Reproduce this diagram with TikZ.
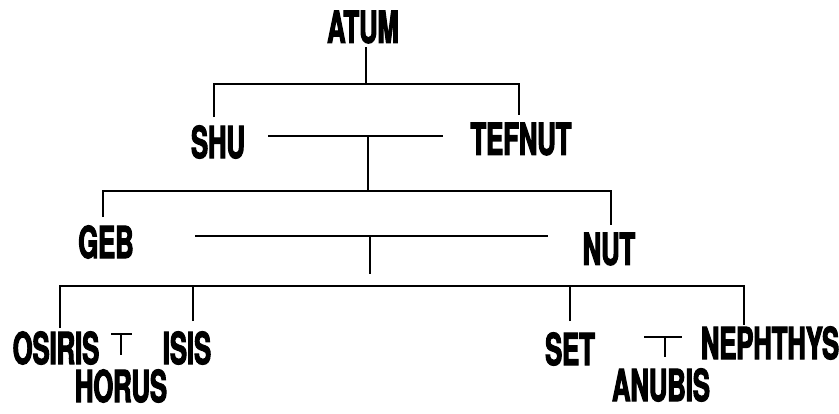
\documentclass[tikz,border=0pt]{standalone}
\usepackage{fontspec}
\setmainfont{TeX Gyre Heros}[FakeStretch=0.58,BoldFont={* Bold},BoldFeatures={FakeBold=2.5}]
\begin{document}
\begin{tikzpicture}[x=1pt,y=-1pt,
  god/.style={inner sep=0pt,font=\fontsize{44}{44}\selectfont\bfseries},
  ln/.style={line width=2.2pt,line cap=butt},
  thin/.style={line width=1.5pt}]
\useasboundingbox (0,0) rectangle (839,413);
% names
\node[god] (atum) at (363,27) {ATUM};
\node[god] (shu) at (218,142) {SHU};
\node[god] (tefnut) at (521,139) {TEFNUT};
\node[god] (geb) at (106,242) {GEB};
\node[god] (nut) at (609,249) {NUT};
\node[god] (osiris) at (56,348) {OSIRIS};
\node[god] (isis) at (187,348) {ISIS};
\node[god] (horus) at (121,386) {HORUS};
\node[god] (set) at (570,349) {SET};
\node[god] (nephthys) at (770,343) {NEPHTHYS};
\node[god] (anubis) at (661,385) {ANUBIS};
% helper coordinates
\coordinate (atumB) at (366,47);
\coordinate (a0) at (366,84);
\coordinate (shuT) at (214,117);
\coordinate (tefT) at (519,115);
\coordinate (st1) at (268,136);
\coordinate (st2) at (443,136);
\coordinate (st0) at (368,136);
\coordinate (gn0) at (368,191);
\coordinate (gebT) at (103,217);
\coordinate (nutT) at (611,225);
\coordinate (gn1) at (195,236);
\coordinate (gn2) at (548,236);
\coordinate (gm) at (370,236);
\coordinate (gm2) at (370,274);
\coordinate (ch) at (370,286);
\coordinate (osT) at (60,328);
\coordinate (isT) at (193,321);
\coordinate (seT) at (570,321);
\coordinate (neT) at (744,325);
\coordinate (ot1) at (111,334);
\coordinate (ot2) at (132,334);
\coordinate (ot0) at (121,334);
\coordinate (hoT) at (121,355);
\coordinate (sn1) at (644,337);
\coordinate (sn2) at (682,337);
\coordinate (sn0) at (665,337);
\coordinate (anT) at (665,357);
% Atum's children
\draw[ln] (atumB) -- (a0);
\draw[ln] (shuT) |- (a0) -| (tefT);
% Shu -- Tefnut
\draw[ln] (st1) -- (st2);
\draw[ln] (st0) -- (gn0);
\draw[ln] (gebT) |- (gn0) -| (nutT);
% Geb -- Nut
\draw[ln] (gn1) -- (gn2);
\draw[ln] (gm) -- (gm2);
\draw[ln] (osT) |- (ch) -| (neT);
\draw[ln] (isT) -- (isT |- ch);
\draw[ln] (seT) -- (seT |- ch);
% Osiris + Isis -> Horus
\draw[thin] (ot1) -- (ot2);
\draw[thin] (ot0) -- (hoT);
% Set + Nephthys -> Anubis
\draw[thin] (sn1) -- (sn2);
\draw[thin] (sn0) -- (anT);
\end{tikzpicture}
\end{document}
